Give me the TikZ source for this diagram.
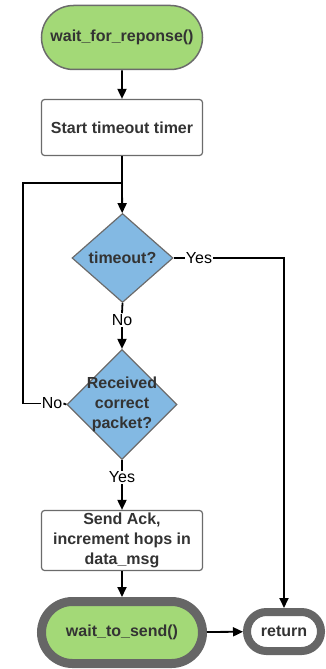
\documentclass[tikz,border=0pt]{standalone}
\usepackage{fontspec}
\setmainfont{Liberation Sans}
\usetikzlibrary{shapes.geometric,shapes.misc,arrows.meta}
\definecolor{termgreen}{RGB}{163,217,119}
\definecolor{decblue}{RGB}{131,185,227}
\definecolor{edgegrey}{RGB}{107,107,107}
\definecolor{txtgrey}{RGB}{51,51,51}
\tikzset{
  term/.style={rounded rectangle,draw=edgegrey,fill=termgreen,line width=1.5,
    minimum width=161,minimum height=64,inner sep=0,text=txtgrey,font=\bfseries},
  stepbox/.style={rectangle,rounded corners=3,draw=edgegrey,fill=white,line width=1.2,
    minimum width=161,inner sep=0,text=txtgrey,font=\bfseries,align=center},
  decision/.style={diamond,draw=edgegrey,fill=decblue,line width=1.2,inner sep=-20,
    text=txtgrey,font=\bfseries,align=center},
  lbl/.style={inner sep=1,font=\fontsize{16}{19}\selectfont},
  conn/.style={line width=1.8,draw=black},
  arr/.style={conn,-{Triangle[length=10,width=9]}}
}
\begin{document}
\begin{tikzpicture}[x=1pt,y=1pt,yscale=-1,xscale=1]
\useasboundingbox (0,0) rectangle (325,669);
\fontsize{16}{20}\selectfont
% shapes
\node[term] (start) at (122,37.5) {wait\_for\_reponse()};
\node[stepbox,minimum height=56] (timer) at (122,127.5) {Start timeout timer};
\node[decision,minimum width=101,minimum height=89] (q1) at (122.5,258) {timeout?};
\node[decision,minimum width=110,minimum height=110] (q2) at (122,404.5) {Received\\correct\\packet?};
\node[stepbox,minimum height=60] (ack) at (122,540.5) {Send Ack,\\increment hops in\\data\_msg};
\node[term,line width=9,minimum height=62,draw=edgegrey!95!black] (send) at (122,632.5) {wait\_to\_send()};
\node[rounded rectangle,draw=edgegrey!95!black,fill=white,line width=8,minimum width=74,minimum height=39,
  inner sep=0,text=txtgrey,font=\bfseries] (ret) at (284,631.5) {return};
% labels
\node[lbl] (yes1) at (199,258) {Yes};
\node[lbl] (no1) at (122,320) {No};
\node[lbl] (no2) at (52,403.5) {No};
\node[lbl] (yes2) at (122,477.5) {Yes};
\coordinate (merge) at (122,183);
\coordinate (loop) at (23,183);
% connectors
\draw[arr] (start) -- (timer);
\draw[conn] (timer) -- (merge);
\draw[arr] (merge) -- (q1);
\draw[conn] (q1.east) -- (yes1.west);
\draw[arr] (yes1.east) -| (ret.north);
\draw[conn] (q1.south) -- (no1.north);
\draw[arr] (no1.south) -- (q2.north);
\draw[conn] (q2.west) -- (no2.east);
\draw[conn] (no2.west) -| (loop) -- (merge);
\draw[conn] (q2.south) -- (yes2.north);
\draw[arr] (yes2.south) -- (ack.north);
\draw[arr] (ack) -- (send);
\draw[arr] (send) -- (ret);
\end{tikzpicture}
\end{document}
